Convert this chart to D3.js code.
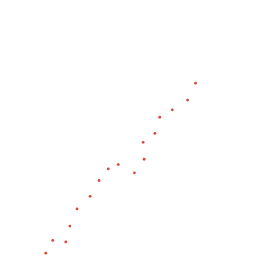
<!DOCTYPE html>
<html>
<head>
<meta charset="utf-8">
<script src="https://cdn.jsdelivr.net/npm/d3@7"></script>
<style>
  html, body { margin: 0; padding: 0; background: #fff; }
  svg { display: block; }
</style>
</head>
<body>
<div id="chart"></div>
<script>
// x / y values (units: 0-100 on both axes)
var xValues = [17.9, 20.6, 25.7, 27.3, 30.1, 35.2, 38.7, 42.3, 46.2, 52.5,
               55.9, 56.3, 60.5, 62.4, 67.3, 73.3, 76.4];
var yValues = [1.1, 6.1, 5.5, 11.7, 18.4, 23.3, 29.5, 34.0, 35.7, 32.5,
               44.4, 37.8, 47.9, 54.2, 57.1, 60.9, 67.5];

var width = 256, height = 256;

var svg = d3.select('#chart').append('svg')
    .attr('width', width)
    .attr('height', height);

var x = d3.scaleLinear().domain([0, 100]).range([0, width]);
var y = d3.scaleLinear().domain([0, 100]).range([height, 0]);

var points = xValues.map((v, i) => ({x: v, y: yValues[i]}));

svg.append('g')
    .selectAll('circle')
    .data(points)
    .enter().append('circle')
    .attr('cx', d => x(d.x))
    .attr('cy', d => y(d.y))
    .attr('r', 1.4)
    .attr('fill', '#d9473a');
</script>
</body>
</html>
